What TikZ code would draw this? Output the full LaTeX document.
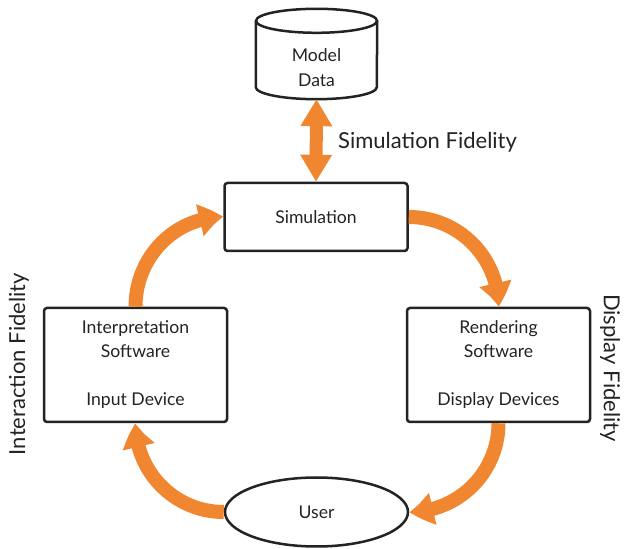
\documentclass[tikz,border=0pt]{standalone}
\usepackage{fontspec}
\setmainfont{Lato}
\usetikzlibrary{arrows.meta,bending,shapes.geometric}
\definecolor{orng}{RGB}{240,134,48}
\definecolor{ink}{RGB}{35,35,35}
\begin{document}
\begin{tikzpicture}[x=1pt,y=1pt,
  box/.style={draw=ink,line width=2.5pt,rounded corners=3pt,fill=white,inner sep=0pt,align=center,text=ink,font=\fontsize{17.6}{24}\selectfont},
  flow/.style={draw=orng,line width=14pt,-{Triangle[width=31pt,length=24pt,bend]}},
  bigflow/.style={draw=orng,line width=13pt,{Triangle[width=30pt,length=27pt]}-{Triangle[width=30pt,length=27pt]}},
  fid/.style={text=ink,inner sep=0pt,font=\fontsize{22}{24}\selectfont}
  ]
\useasboundingbox (0,0) rectangle (624,549);
% nodes
\node[box,minimum width=183pt,minimum height=68pt] (sim) at (316,332) {Simulation};
\node[box,minimum width=183pt,minimum height=114pt] (interp) at (135.5,184) {Interpretation\\Software\\[24pt]Input Device};
\node[box,minimum width=183pt,minimum height=114pt] (render) at (498.5,184) {Rendering\\Software\\[24pt]Display Devices};
\node[ellipse,draw=ink,line width=2.5pt,minimum width=183pt,minimum height=69pt,inner sep=0pt,text=ink,font=\fontsize{17.6}{24}\selectfont] (user) at (316.5,37) {User};
% cylinder
\node[minimum width=121pt,minimum height=90pt,inner sep=0pt] (model) at (316.5,495) {};
\draw[ink,line width=2.5pt] ([yshift=-12pt]model.north west)
  -- ([yshift=12pt]model.south west) arc[start angle=180,end angle=360,x radius=60.5pt,y radius=12pt]
  -- ([yshift=-12pt]model.north east);
\draw[ink,line width=2.5pt] ([yshift=-12pt]model.north) ellipse[x radius=60.5pt,y radius=12pt];
\node[align=center,text=ink,font=\fontsize{17.6}{25}\selectfont] (modeltxt) at (316.5,481) {Model\\Data};
% arrows
\draw[bigflow] (model.south) -- (sim.north);
\draw[flow] (interp.north) to[out=90,in=180] (sim.west);
\draw[flow] (sim.east) to[out=0,in=90] (render.north);
\draw[flow] (render.south) to[out=-90,in=0] (user.east);
\draw[flow] (user.west) to[out=180,in=-90] (interp.south);
% labels
\node[fid,anchor=west] (simfid) at (338,407) {Simulation Fidelity};
\node[fid,rotate=90] (intfid) at (19,185) {Interaction Fidelity};
\node[fid,rotate=-90] (dispfid) at (610,181) {Display Fidelity};
\end{tikzpicture}
\end{document}
